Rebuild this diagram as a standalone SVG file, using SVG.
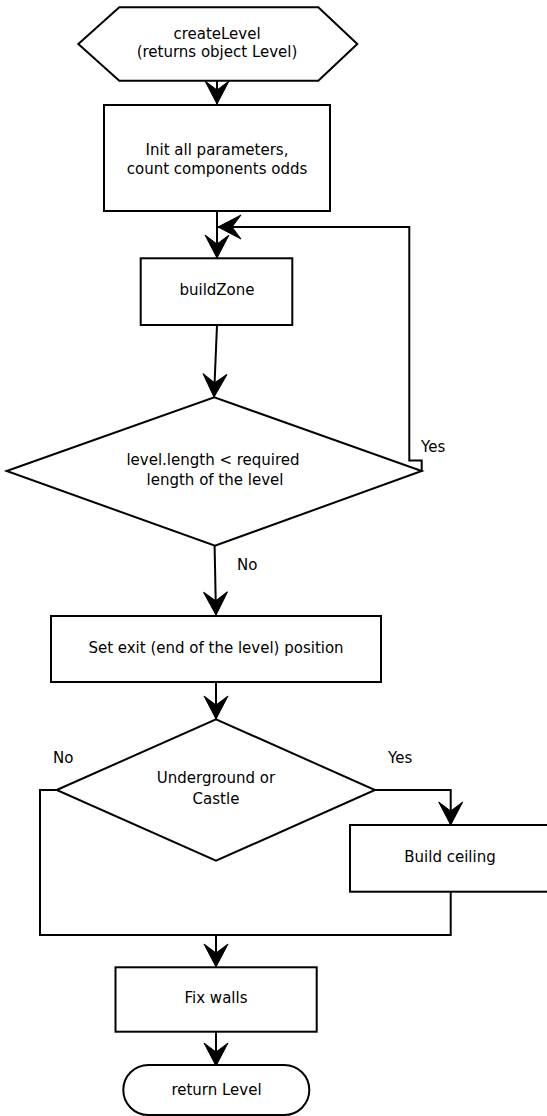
<svg xmlns="http://www.w3.org/2000/svg" width="547" height="1116" viewBox="0 0 547 1116">
  <style>
    .shape { fill: #ffffff; stroke: #000000; stroke-width: 2; }
    .conn { fill: none; stroke: #000000; stroke-width: 2; }
    text { font-family: "DejaVu Sans", "Liberation Sans", sans-serif; font-size: 15px; fill: #000000; }
    .c { text-anchor: middle; }
  </style>
  <defs>
    <marker id="arrow" markerUnits="userSpaceOnUse" viewBox="-24 -13 26 26" refX="0" refY="0" markerWidth="26" markerHeight="26" orient="auto" overflow="visible">
      <path d="M0,0 L-23,-12 L-14,0 L-23,12 Z" fill="#000000" stroke="#000000" stroke-width="1" stroke-linejoin="miter"/>
    </marker>
  </defs>
  <rect width="547" height="1116" fill="#ffffff"/>

  <g id="connectors">
    <path class="conn" d="M217,81 L217,104" marker-end="url(#arrow)"/>
    <path class="conn" d="M217,211 L217,258" marker-end="url(#arrow)"/>
    <path class="conn" d="M217,325 L214,397" marker-end="url(#arrow)"/>
    <path class="conn" d="M421.7,471 L421.7,460.5 L409.3,460.5 L409.3,227 L218,227" marker-end="url(#arrow)"/>
    <path class="conn" d="M214.6,546 L216,615" marker-end="url(#arrow)"/>
    <path class="conn" d="M216,682 L216,719" marker-end="url(#arrow)"/>
    <path class="conn" d="M375,790 L450.7,790 L450.7,825" marker-end="url(#arrow)"/>
    <path class="conn" d="M56.7,790 L40,790 L40,935 L216,935 L216,967" marker-end="url(#arrow)"/>
    <path class="conn" d="M450.7,891.7 L450.7,935 L216,935"/>
    <path class="conn" d="M216,1031.7 L216,1066" marker-end="url(#arrow)"/>
    <text x="421" y="452">Yes</text>
    <text x="237" y="570">No</text>
    <text x="53" y="763">No</text>
    <text x="388" y="763">Yes</text>
  </g>

  <g id="createLevel">
    <polygon class="shape" points="78.3,44 119.3,7.3 318.3,7.3 357.3,44 318.3,80.7 119.3,80.7"/>
    <text class="c" x="217" y="38.5">createLevel</text>
    <text class="c" x="217" y="57">(returns object Level)</text>
  </g>

  <g id="initParams">
    <rect class="shape" x="104" y="105" width="226" height="106"/>
    <text class="c" x="217" y="155">Init all parameters,</text>
    <text class="c" x="217" y="173.5">count components odds</text>
  </g>

  <g id="buildZone">
    <rect class="shape" x="140.7" y="258.3" width="151.6" height="66.7"/>
    <text class="c" x="217" y="295">buildZone</text>
  </g>

  <g id="lengthCheck">
    <polygon class="shape" points="6.7,471 214.3,397.3 421.7,471 215,545.7"/>
    <text class="c" x="213" y="465">level.length &lt; required</text>
    <text class="c" x="215" y="485">length of the level</text>
  </g>

  <g id="setExit">
    <rect class="shape" x="51" y="616" width="330" height="66"/>
    <text class="c" x="216" y="653">Set exit (end of the level) position</text>
  </g>

  <g id="undergroundCheck">
    <polygon class="shape" points="56.7,790 216,719.3 375,790 216,860.7"/>
    <text class="c" x="216" y="783">Underground or</text>
    <text class="c" x="216" y="804">Castle</text>
  </g>

  <g id="buildCeiling">
    <rect class="shape" x="350" y="825" width="210" height="66.7"/>
    <text class="c" x="450" y="862">Build ceiling</text>
  </g>

  <g id="fixWalls">
    <rect class="shape" x="115.5" y="967.3" width="201.2" height="64.4"/>
    <text class="c" x="216" y="1003">Fix walls</text>
  </g>

  <g id="returnLevel">
    <rect class="shape" x="123.3" y="1065" width="186" height="50" rx="25" ry="25"/>
    <text class="c" x="216.5" y="1095">return Level</text>
  </g>
</svg>
